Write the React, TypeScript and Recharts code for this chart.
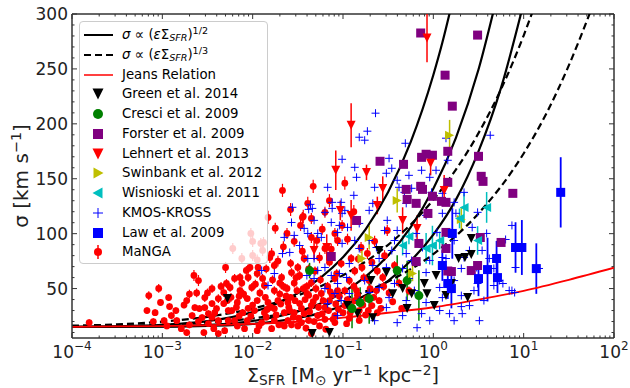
import React from 'react';
import { ComposedChart, Scatter, Line, XAxis, YAxis, ErrorBar, ReferenceLine } from 'recharts';

// plot box (px) inside the 630x388 canvas
const PLOT_W = 542;
const PLOT_H = 324;
const AXIS = '#333';
const FONT = 'DejaVu Sans, sans-serif';

// x is log10(Sigma_SFR), y is sigma [km/s]
const xMajor = [-4, -3, -2, -1, 0, 1, 2];
const xMinorMult = [2, 3, 4, 5, 6, 7, 8, 9];
const yMajor = [50, 100, 150, 200, 250, 300];
const yMinor = [10, 20, 30, 40, 60, 70, 80, 90, 110, 120, 130, 140, 160, 170, 180, 190, 210, 220, 230, 240, 260, 270, 280, 290];

const solidA = [[-4, 15.2], [-3.5, 15.6], [-3, 16.9], [-2.5, 20.3], [-2, 28.6], [-1.75, 35.8], [-1.5, 45.9], [-1.25, 59.8], [-1, 78.6], [-0.75, 104], [-0.5, 138], [-0.25, 183.6], [0, 244.5], [0.1, 274], [0.2, 307.5]];
const solidB = [[-4, 15.1], [-3, 15.6], [-2.5, 16.9], [-2, 20.5], [-1.5, 29.1], [-1.25, 36.4], [-1, 46.7], [-0.75, 60.9], [-0.5, 80.1], [-0.25, 106], [0, 140.8], [0.25, 187.3], [0.5, 249.4], [0.7, 314]];
const solidC = [[-4, 15], [-3, 15.3], [-2.5, 16], [-2, 17.9], [-1.5, 23.2], [-1.25, 27.7], [-1, 34.5], [-0.75, 44], [-0.5, 57.1], [-0.25, 75.3], [0, 99.1], [0.25, 131], [0.5, 175], [0.75, 233], [1, 310]];
const dashA = [[-4, 16.2], [-3.5, 17.4], [-3, 19.9], [-2.5, 24.3], [-2, 31.8], [-1.5, 43.8], [-1, 62.2], [-0.5, 89.8], [0, 130.9], [0.25, 158.3], [0.5, 191.5], [0.75, 231.6], [1, 280.4], [1.15, 314]];
const dashB = [[-4, 15.5], [-3, 17], [-2.5, 19.1], [-2, 22.9], [-1.5, 29.4], [-1, 40], [-0.5, 56.5], [0, 81.4], [0.5, 118.4], [1, 173], [1.25, 209.2], [1.5, 253.2], [1.75, 304.5]];
const jeans = [[-4, 15.2], [-3.5, 15.5], [-3, 15.9], [-2.5, 16.6], [-2, 17.8], [-1.5, 19.8], [-1, 23.5], [-0.5, 28], [0, 33], [0.5, 40], [1, 48], [1.5, 58], [2, 69]];

const green14 = [[-2.28, 40.9], [-1.34, 9], [-1.15, 10], [-0.95, 34.5], [-0.84, 27.2], [-0.67, 23.5], [-0.69, 57.3], [-0.6, 84.7], [-0.45, 45.4], [-0.34, 50], [-0.29, 31.8], [-0.24, 45.4], [-0.1, 54.6], [-0.07, 45.4], [0.01, 34.5], [0.03, 61.9], [0.14, 43.6], [0.2, 54.6], [0.28, 77.4], [0.35, 78.3], [0.42, 81], [0.42, 95.6], [0.38, 41.8], [-0.52, 64.6]];
const cresci09 = [[-0.9, 31.8, 18], [-0.81, 37.2, 14], [-0.71, 40.9, 23], [-0.4, 66.4, 14], [-0.29, 57.3, 18], [-0.16, 43.6, 23], [-1.37, 66.4, 7]];
const forster09 = [[-0.14, 282.7], [0.49, 280.8], [0.13, 244.3], [0.21, 216.1], [-0.59, 165.9], [-0.33, 163.1], [-0.08, 172.3], [-0.01, 171.4], [-0.13, 169.5], [0.16, 175], [0.5, 170.4], [0.53, 152.2], [0.55, 147.6], [-0.3, 140.3], [-0.14, 143.1], [-0.12, 140.3], [-0.29, 131.2], [-0.19, 127.6], [0.16, 146.7], [-0.01, 134], [0.09, 129.4], [0.14, 128.5], [-0.06, 118.4], [0.88, 136.7], [0.75, 92], [0.52, 96.5], [0.14, 86.5], [-0.16, 91.1], [-1.13, 79.2], [-0.85, 112], [0.49, 71], [0.42, 66.4], [0.2, 65.5], [-0.19, 74.6], [0.14, 101.1], [0.16, 66]];
const lehnert13 = [[-0.07, 278.1, 22], [-0.91, 198.7, 20], [-1.08, 157.7, 18], [-0.74, 155.8, 7], [-0.56, 141.2, 11], [-0.03, 164.1, 11], [0.12, 139.4, 14], [-0.18, 104.7, 12], [-0.34, 112, 12], [-0.62, 125.7, 8], [-1.03, 121.2, 9], [-0.91, 116.6, 14], [-1.18, 87.4, 12], [-1.32, 84.7, 9]];
const swinbank12 = [[0.18, 189.6, 14], [-0.4, 130.3, 11], [-0.71, 96.5, 11], [0.31, 113, 11], [-0.23, 63.7, 7], [-0.79, 77.4, 7]];
const wisnioski11 = [[0.59, 123.9, 14], [0.34, 123.9, 14], [0.49, 93.8, 13], [0.29, 113.9, 9], [-0.01, 89.2, 18], [-0.08, 86.5, 14], [-0.34, 89.2, 9], [0.07, 93.8, 8], [-0.27, 97.4, 7]];
const law09 = [[1.41, 137.6, 32], [0.91, 87.4, 23], [0.98, 87.4, 25], [1.14, 68.2, 23], [0.7, 77.4, 16], [0.6, 67.3, 29], [0.71, 60, 14], [0.5, 59.1, 16], [0.21, 100.2, 23], [0.1, 71, 14], [0.16, 54.6, 14], [0.2, 50, 18]];

const kmos = [[-0.64, 209.7], [-0.73, 193.3], [-0.82, 187.8], [-0.76, 185.1], [-0.31, 182.3], [-1.01, 167.7], [-0.87, 160.4], [-0.49, 168.6], [-0.85, 151.3], [-0.46, 159.5], [-0.27, 153.1], [-0.52, 155], [-0.4, 148.6], [-0.13, 157.7], [0.03, 157.7], [0.14, 186.9], [0.16, 166.8], [-0.65, 142.2], [-0.38, 142.2], [-0.24, 141.3], [-0.32, 137.6], [-0.04, 151.3], [-0.02, 137.6], [0.1, 136.7], [-0.88, 134.9], [-1.02, 128.5], [-0.67, 127.6], [-0.19, 127.6], [0.63, 189.6], [-1.17, 142.2], [-1.38, 122.1], [-1.34, 123], [-1.12, 128.5], [-1.01, 118.5], [-0.71, 121.2], [-0.54, 102.9], [0.25, 118.5], [0.23, 128.5], [0.43, 105.7], [0.59, 100.2], [0.87, 107.5], [0.8, 94.7], [0.91, 69.2], [0.73, 57.3], [0.67, 52.8], [0.84, 48.2], [1.17, 68.3], [0.31, 43.6], [0.32, 27.2], [-0.18, 14.4], [0.34, 137.6], [0.49, 119.4], [0.87, 48.2], [0.49, 54.6], [0.45, 48.2], [0.31, 33.6], [0.67, 68.3], [0.77, 54.6], [0.48, 69.2], [0.14, 77.4], [0.34, 78.3], [-0.98, 121.2], [-0.3, 127.6], [-0.08, 116.6], [0.1, 118.5], [-0.95, 105.7], [-0.82, 109.3], [-0.51, 112.1], [-0.4, 102.9], [-0.19, 100.2], [0.04, 101.1], [-1.01, 91.1], [-0.82, 86.5], [-0.63, 87.4], [-0.46, 84.7], [-0.3, 81.9], [-0.12, 87.4], [0.1, 78.3], [-0.93, 72.8], [-0.67, 71], [-0.52, 69.2], [-0.34, 68.3], [-0.08, 64.6], [0.14, 68.3], [-0.96, 60.1], [-0.76, 57.3], [-0.6, 51], [-0.43, 54.6], [-0.21, 48.2], [0.07, 51], [-0.93, 45.5], [-0.49, 41.8], [-0.3, 39.1], [-0.08, 37.3], [0.1, 41.8], [-0.52, 32.7], [-0.34, 25.4], [-0.13, 27.2], [0.07, 30], [0.18, 27.2], [-1.56, 124], [-1.36, 126.7], [-1.12, 123], [-1.2, 119.4], [-1.57, 110.2], [-1.32, 112.1], [-1.13, 110.2], [-1.04, 107.5], [-1.43, 104.8], [-1.54, 98.4], [-1.39, 100.2], [-1.28, 100.2], [-1.24, 96.6], [-1.65, 96.6], [-1.06, 101.1], [-1.67, 81.9], [-1.59, 82.9], [-1.76, 63.7], [-1.39, 77.4], [-1.32, 77.4], [-1.28, 66.5], [-1.2, 69.2], [-1.13, 61.9], [-1.04, 63.7], [-1.32, 59.2], [-1.06, 54.6], [-1.2, 50.1], [-1.09, 45.5], [-1.02, 39.1], [-1.17, 36.3], [-1.06, 25.4], [-1.4, 61.9], [-1.9, 66.5], [-1.83, 52.8], [-1.48, 89.2], [-0.87, 93.8], [-0.71, 93.8], [-0.6, 77.4], [-0.43, 93.8], [-0.24, 75.6], [-0.04, 75.6], [0.23, 93.8], [0.4, 84.7], [0.54, 84.7], [0.62, 77.4], [0.56, 39.1], [0.4, 34.5], [0.23, 20.8], [-0.04, 20.8], [-0.4, 19], [-0.65, 20.8], [0.51, 20.8], [0.9, 46.4], [-0.82, 39.1], [-0.71, 46.4], [-0.27, 59.2], [0.23, 57.3], [0.31, 68.3]];

const manga = [[-3.81, 19, 3], [-3.15, 43.6, 4], [-3.04, 50.1, 4], [-3.02, 37.3, 3], [-2.93, 41.8, 3], [-3.17, 30, 3], [-3.08, 28.1, 3], [-2.92, 33.6, 3], [-2.9, 25.4, 3], [-2.98, 20.8, 3], [-2.84, 20.8, 3], [-2.79, 13.5, 3], [-2.73, 9.9, 3], [-2.67, 25.4, 3], [-2.6, 57.3, 5], [-2.59, 31.8, 3], [-2.53, 32.7, 3], [-2.53, 41.8, 4], [-2.49, 27.2, 3], [-2.45, 36.3, 3], [-2.4, 31.8, 3], [-2.38, 40.9, 4], [-2.32, 46.4, 4], [-2.3, 69.2, 5], [-2.29, 54.6, 4], [-2.32, 36.3, 3], [-2.27, 30, 3], [-2.27, 20.8, 3], [-2.38, 20.8, 3], [-2.49, 18.1, 3], [-2.54, 9.9, 3], [-2.38, 9, 3], [-2.43, 13.5, 3], [-2.31, 11.7, 3], [-2.56, 23.6, 3], [-2.73, 39.1, 3], [-2.64, 32.7, 3],
  [-1.83, 114.8, 6], [-2.02, 100.2, 5], [-1.88, 92, 5], [-1.62, 100.2, 5], [-1.44, 115.7, 6], [-1.47, 107.5, 5], [-1.35, 96.6, 5], [-1.79, 81.9, 5], [-1.91, 91.1, 5], [-2, 80.1, 5], [-2.12, 77.4, 5], [-1.76, 71, 4], [-1.5, 69.2, 4], [-1.43, 77.4, 4], [-2.2, 59.2, 4], [-2.07, 66.5, 4], [-1.95, 63.7, 4], [-1.68, 60.1, 4], [-1.57, 64.6, 4], [-1.48, 61.9, 4], [-1.35, 55.5, 4], [-2.25, 51, 4], [-2.14, 48.2, 4], [-2.01, 51, 4], [-1.87, 52.8, 4], [-1.76, 48.2, 4], [-1.62, 50.1, 4], [-1.51, 48.2, 4], [-1.4, 45.5, 4], [-1.24, 45.5, 4], [-1.09, 59.2, 4], [-1.06, 48.2, 4], [-2.28, 39.1, 3], [-2.17, 37.3, 3], [-2.06, 40.9, 3], [-1.95, 39.1, 3], [-1.83, 37.3, 3], [-1.72, 39.1, 3], [-1.61, 37.3, 3], [-1.48, 36.3, 3], [-1.35, 34.5, 3], [-1.2, 32.7, 3], [-2.23, 30, 3], [-2.11, 28.1, 3], [-1.98, 30, 3], [-1.87, 28.1, 3], [-1.76, 31.8, 3], [-1.65, 28.1, 3], [-1.54, 28.1, 3], [-1.43, 27.2, 3], [-1.28, 25.4, 3], [-2.2, 20.8, 3], [-2.06, 20.8, 3], [-1.9, 19, 3], [-1.76, 20.8, 3], [-1.61, 20.8, 3], [-1.46, 19, 3], [-2.09, 13.5, 3], [-1.95, 11.7, 3], [-1.79, 13.5, 3], [-1.35, 9, 3], [-1.09, 25.4, 3], [-1.02, 72.8, 4],
  [-1.67, 139.4, 6], [-1.33, 143.1, 6], [-1.39, 127.6, 6], [-0.98, 146, 6], [-1.2, 119.4, 5], [-1.45, 114.8, 5], [-1.35, 113.9, 5], [-1.01, 107.5, 5], [-1.09, 100.2, 5], [-1.29, 93.8, 5], [-1.2, 86.5, 5], [-1.06, 93.8, 5], [-0.91, 77.4, 4], [-0.8, 87.4, 5], [-0.79, 69.2, 4], [-0.71, 57.3, 4], [-0.93, 57.3, 4], [-1.07, 63.7, 4], [-0.63, 48.2, 4], [-0.56, 60.1, 4], [-0.74, 40.9, 3], [-0.85, 48.2, 4], [-0.51, 102.9, 5],
  [-2, 92.9, 5], [-2.22, 86.5, 5], [-1.89, 84.7, 5], [-1.81, 78.3, 5], [-2.03, 69.2, 4], [-1.94, 69.2, 4], [-2.05, 60.1, 4], [-2.14, 60.1, 4], [-1.89, 59.2, 4],
  [-1.15, 39, 3], [-0.98, 34.5, 3], [-0.87, 39, 3], [-0.93, 23, 3], [-0.82, 30, 3], [-0.68, 34.5, 3], [-0.6, 39, 3], [-0.49, 46, 4], [-0.98, 48, 4], [-1.17, 52, 4], [-1.31, 66, 4], [-1.15, 74, 4], [-0.87, 66, 4], [-0.68, 74, 4], [-0.54, 80, 5], [-0.43, 71, 4], [-0.38, 55, 4], [-0.27, 48, 4], [-1.65, 16, 3], [-1.5, 16, 3], [-1.26, 16, 3], [-1.09, 19, 3], [-0.82, 21, 3], [-1.7, 55, 4], [-1.54, 55, 4],
  [-1.7, 45, 4], [-1.58, 42, 3], [-1.42, 40, 3], [-1.3, 42, 3], [-1.12, 44, 3], [-1.25, 58, 4], [-1.4, 52, 4], [-1.6, 33, 3], [-1.8, 33, 3], [-2, 35, 3], [-2.15, 43, 3], [-1.92, 46, 4], [-1.05, 31, 3], [-0.92, 28, 3], [-0.75, 26, 3], [-0.62, 28, 3], [-1.2, 22, 3], [-1.38, 21, 3], [-2.62, 46, 4], [-2.45, 50, 4], [-2.7, 17, 3], [-2.45, 24, 3], [-2.15, 25, 3], [-1.85, 24, 3], [-1.55, 24, 3], [-0.7, 50, 4], [-0.45, 38, 3], [-0.35, 32, 3],
  [-2.18, 33, 3], [-2.1, 45, 4], [-2.02, 25, 3], [-1.97, 54, 4], [-1.93, 16, 3], [-1.86, 42, 3], [-1.84, 31, 3], [-1.78, 58, 4], [-1.74, 26, 3], [-1.71, 17, 3], [-1.69, 36, 3], [-1.66, 52, 4], [-1.63, 43, 3], [-1.59, 30, 3], [-1.57, 17, 3], [-1.53, 39, 3], [-1.52, 60, 4], [-1.49, 23, 3], [-1.46, 32, 3], [-1.44, 50, 4], [-1.41, 14, 3], [-1.38, 44, 3], [-1.37, 29, 3], [-1.33, 38, 3], [-1.32, 20, 3], [-1.3, 50, 4], [-1.27, 33, 3], [-1.23, 27, 3], [-1.22, 39, 3], [-1.19, 13, 3], [-1.16, 30, 3], [-1.14, 47, 4], [-1.11, 22, 3], [-1.08, 36, 3], [-1.04, 43, 3], [-1, 28, 3], [-0.96, 18, 3], [-0.95, 40, 3], [-0.9, 33, 3], [-0.88, 52, 4], [-0.84, 44, 3], [-0.78, 35, 3], [-0.77, 60, 4], [-0.72, 30, 3], [-0.66, 42, 3], [-0.58, 32, 3], [-0.55, 52, 4],
  [-1.95, 76, 5], [-1.85, 68, 4], [-1.72, 75, 5], [-1.66, 88, 5], [-1.58, 73, 4], [-1.54, 93, 5], [-1.45, 84, 5], [-1.38, 68, 4], [-1.26, 78, 5], [-1.23, 104, 5], [-1.13, 86, 5], [-1.15, 130, 6], [-0.95, 95, 5], [-0.88, 120, 6], [-0.83, 77, 4], [-0.73, 82, 5], [-0.65, 93, 5], [-0.62, 66, 4], [-1.58, 122, 6], [-1.75, 105, 5],
  [-2.85, 30, 3], [-2.76, 35, 3], [-2.7, 45, 4], [-2.6, 20, 3], [-2.5, 46, 4], [-2.42, 28, 3], [-2.35, 52, 4], [-2.24, 42, 4], [-2.17, 16, 3], [-2.12, 55, 4], [-2.05, 32, 3], [-2.95, 16, 3], [-3.1, 20, 3], [-2.65, 62, 5]];

const toPts = (arr: number[][]) => arr.map(([x, y, e]) => ({ x, y, e: e ?? 0 }));

const xTicks = [
  ...xMajor,
  ...xMajor.slice(0, -1).flatMap((d) => xMinorMult.map((m) => d + Math.log10(m))),
];
const yTicks = [...yMajor, ...yMinor];
const isMajorX = (v: number) => Math.abs(v - Math.round(v)) < 1e-6;

function XTick(props: any) {
  const { x, y, payload } = props;
  const v = payload.value;
  const major = isMajorX(v);
  const len = major ? 5 : 2.5;
  return (
    <g>
      <line x1={x} x2={x} y1={y} y2={y - len} stroke={AXIS} strokeWidth={1} />
      <line x1={x} x2={x} y1={y - PLOT_H} y2={y - PLOT_H + len} stroke={AXIS} strokeWidth={1} />
      {major && (
        <text x={x} y={y + 20} textAnchor="middle" fontFamily={FONT} fontSize={17} fill="#222">
          10<tspan dy={-8} fontSize={12}>{v < 0 ? '\u2212' + Math.abs(v) : String(v)}</tspan>
        </text>
      )}
    </g>
  );
}

function YTick(props: any) {
  const { x, y, payload } = props;
  const v = payload.value;
  const major = v % 50 === 0;
  const len = major ? 5 : 2.5;
  return (
    <g>
      <line x1={x} x2={x + len} y1={y} y2={y} stroke={AXIS} strokeWidth={1} />
      <line x1={x + PLOT_W} x2={x + PLOT_W - len} y1={y} y2={y} stroke={AXIS} strokeWidth={1} />
      {major && (
        <text x={x - 4} y={y + 6} textAnchor="end" fontFamily={FONT} fontSize={17} fill="#222">
          {v}
        </text>
      )}
    </g>
  );
}

const circle = (color: string, r: number) => (p: any) =>
  p.cx == null ? <g /> : <circle cx={p.cx} cy={p.cy} r={r} fill={color} />;
const square = (color: string, s: number) => (p: any) =>
  p.cx == null ? <g /> : <rect x={p.cx - s / 2} y={p.cy - s / 2} width={s} height={s} fill={color} />;
const tri = (color: string, s: number, dir: 'down' | 'left' | 'right') => (p: any) => {
  if (p.cx == null) return <g />;
  const { cx, cy } = p;
  const h = s / 2;
  let pts = '';
  if (dir === 'down') pts = `${cx - h},${cy - h} ${cx + h},${cy - h} ${cx},${cy + h}`;
  if (dir === 'right') pts = `${cx - h},${cy - h} ${cx - h},${cy + h} ${cx + h},${cy}`;
  if (dir === 'left') pts = `${cx + h},${cy - h} ${cx + h},${cy + h} ${cx - h},${cy}`;
  return <polygon points={pts} fill={color} />;
};
const plus = (color: string, s: number) => (p: any) => {
  if (p.cx == null) return <g />;
  const { cx, cy } = p;
  return (
    <g stroke={color} strokeWidth={1}>
      <line x1={cx - s} x2={cx + s} y1={cy} y2={cy} />
      <line x1={cx} x2={cx} y1={cy - s} y2={cy + s} />
    </g>
  );
};

const RED = '#ff0000';
const BLUE = '#0000ff';
const GREEN = '#008000';
const PURPLE = '#800080';
const YELLOW = '#bfbf00';
const CYAN = '#00bfbf';

const sub = { fontSize: '0.72em', position: 'relative' as const, top: '0.25em' };
const sup = { fontSize: '0.72em', position: 'relative' as const, top: '-0.5em' };

const legendRows: { icon: React.ReactNode; label: React.ReactNode }[] = [
  { icon: <line x1={1} x2={30} y1={10} y2={10} stroke="#000" strokeWidth={2} />, label: <span><i>σ</i> ∝ (<i>ε</i>Σ<i style={sub}>SFR</i>)<span style={sup}>1/2</span></span> },
  { icon: <line x1={1} x2={30} y1={10} y2={10} stroke="#000" strokeWidth={2} strokeDasharray="7 4" />, label: <span><i>σ</i> ∝ (<i>ε</i>Σ<i style={sub}>SFR</i>)<span style={sup}>1/3</span></span> },
  { icon: <line x1={1} x2={30} y1={10} y2={10} stroke={RED} strokeWidth={1.5} />, label: 'Jeans Relation' },
  { icon: <polygon points="9.5,4.5 20.5,4.5 15,15.5" fill="#000" />, label: 'Green et al. 2014' },
  { icon: <circle cx={15} cy={10} r={5} fill={GREEN} />, label: 'Cresci et al. 2009' },
  { icon: <rect x={10} y={5} width={10} height={10} fill={PURPLE} />, label: 'Forster et al. 2009' },
  { icon: <polygon points="9.5,4.5 20.5,4.5 15,15.5" fill={RED} />, label: 'Lehnert et al. 2013' },
  { icon: <polygon points="10.5,4.5 10.5,15.5 20.5,10" fill={YELLOW} />, label: 'Swinbank et al. 2012' },
  { icon: <polygon points="19.5,4.5 19.5,15.5 9.5,10" fill={CYAN} />, label: 'Wisnioski et al. 2011' },
  { icon: <g stroke={BLUE} strokeWidth={1}><line x1={10} x2={20} y1={10} y2={10} /><line x1={15} x2={15} y1={5} y2={15} /></g>, label: 'KMOS-KROSS' },
  { icon: <rect x={10} y={5} width={10} height={10} fill={BLUE} />, label: 'Law et al. 2009' },
  { icon: <g><line x1={15} x2={15} y1={3} y2={17} stroke={RED} strokeWidth={1.5} /><circle cx={15} cy={10} r={4} fill={RED} /></g>, label: 'MaNGA' },
];

function LegendBox() {
  return (
    <div style={{ position: 'absolute', left: 79, top: 21, width: 189, height: 243, boxSizing: 'border-box', border: '1px solid #ccc', borderRadius: 4, background: 'rgba(255,255,255,0.8)', fontFamily: FONT, fontSize: 13.3, color: '#000' }}>
      {legendRows.map((r, i) => (
        <div key={i} style={{ position: 'absolute', left: 0, top: 3 + i * 19.75, height: 20, width: 185 }}>
          <svg width={32} height={20} style={{ position: 'absolute', left: 3, top: 0 }}>{r.icon}</svg>
          <div style={{ position: 'absolute', left: 42, top: 1, lineHeight: '18px', whiteSpace: 'nowrap' }}>{r.label}</div>
        </div>
      ))}
    </div>
  );
}

const lineProps = { type: 'monotone' as const, dataKey: 'y', dot: false, isAnimationActive: false };

export default function App() {
  return (
    <div style={{ position: 'absolute', left: 0, top: 0, width: 630, height: 388, background: '#fff' }}>
      <ComposedChart width={630} height={388} margin={{ top: 14, right: 16, bottom: 0, left: 0 }}>
        <XAxis dataKey="x" type="number" domain={[-4, 2]} allowDataOverflow ticks={xTicks} interval={0}
          tick={XTick} tickLine={false} tickSize={0} tickMargin={0} height={50}
          axisLine={{ stroke: AXIS, strokeWidth: 1.5 }} />
        <YAxis dataKey="y" type="number" domain={[5, 300]} allowDataOverflow ticks={yTicks} interval={0}
          tick={YTick} tickLine={false} tickSize={0} tickMargin={0} width={72}
          axisLine={{ stroke: AXIS, strokeWidth: 1.5 }} />
        <ReferenceLine y={300} stroke={AXIS} strokeWidth={1.5} />
        <ReferenceLine x={2} stroke={AXIS} strokeWidth={1.5} />

        <Scatter data={toPts(manga)} dataKey="y" shape={circle(RED, 3.4)} isAnimationActive={false}>
          <ErrorBar dataKey="e" direction="y" width={0} stroke={RED} strokeWidth={1.2} isAnimationActive={false} />
        </Scatter>
        <Scatter data={toPts(kmos)} dataKey="y" shape={plus(BLUE, 4)} isAnimationActive={false} />
        <Scatter data={toPts(green14)} dataKey="y" shape={tri('#000', 9, 'down')} isAnimationActive={false} />
        <Scatter data={toPts(cresci09)} dataKey="y" shape={circle(GREEN, 4.5)} isAnimationActive={false}>
          <ErrorBar dataKey="e" direction="y" width={0} stroke={GREEN} strokeWidth={1.5} isAnimationActive={false} />
        </Scatter>
        <Scatter data={toPts(forster09)} dataKey="y" shape={square(PURPLE, 9)} isAnimationActive={false} />
        <Scatter data={toPts(lehnert13)} dataKey="y" shape={tri(RED, 9, 'down')} isAnimationActive={false}>
          <ErrorBar dataKey="e" direction="y" width={0} stroke={RED} strokeWidth={1.5} isAnimationActive={false} />
        </Scatter>
        <Scatter data={toPts(swinbank12)} dataKey="y" shape={tri(YELLOW, 9, 'right')} isAnimationActive={false}>
          <ErrorBar dataKey="e" direction="y" width={0} stroke={YELLOW} strokeWidth={1.5} isAnimationActive={false} />
        </Scatter>
        <Scatter data={toPts(wisnioski11)} dataKey="y" shape={tri(CYAN, 9, 'left')} isAnimationActive={false}>
          <ErrorBar dataKey="e" direction="y" width={0} stroke={CYAN} strokeWidth={1.5} isAnimationActive={false} />
        </Scatter>
        <Scatter data={toPts(law09)} dataKey="y" shape={square(BLUE, 9)} isAnimationActive={false}>
          <ErrorBar dataKey="e" direction="y" width={0} stroke={BLUE} strokeWidth={1.8} isAnimationActive={false} />
        </Scatter>

        <Line {...lineProps} data={toPts(solidA)} stroke="#000" strokeWidth={2.2} />
        <Line {...lineProps} data={toPts(solidB)} stroke="#000" strokeWidth={2.2} />
        <Line {...lineProps} data={toPts(solidC)} stroke="#000" strokeWidth={2.2} />
        <Line {...lineProps} data={toPts(dashA)} stroke="#000" strokeWidth={2.2} strokeDasharray="7 4" />
        <Line {...lineProps} data={toPts(dashB)} stroke="#000" strokeWidth={2.2} strokeDasharray="7 4" />
        <Line {...lineProps} data={toPts(jeans)} stroke={RED} strokeWidth={1.8} />
      </ComposedChart>

      <LegendBox />

      <div style={{ position: 'absolute', left: 72, width: 542, top: 366, lineHeight: '19px', textAlign: 'center', fontFamily: FONT, fontSize: 19, color: '#222', whiteSpace: 'nowrap' }}>
        Σ<span style={sub}>SFR</span> [M<span style={sub}>⊙</span> yr<span style={sup}>−1</span> kpc<span style={sup}>−2</span>]
      </div>
      <div style={{ position: 'absolute', left: 21, top: 176, width: 0, height: 0 }}>
        <div style={{ position: 'absolute', transform: 'translate(-50%, -50%) rotate(-90deg)', fontFamily: FONT, fontSize: 20, color: '#222', whiteSpace: 'nowrap' }}>
          σ [km s<span style={sup}>−1</span>]
        </div>
      </div>
    </div>
  );
}
